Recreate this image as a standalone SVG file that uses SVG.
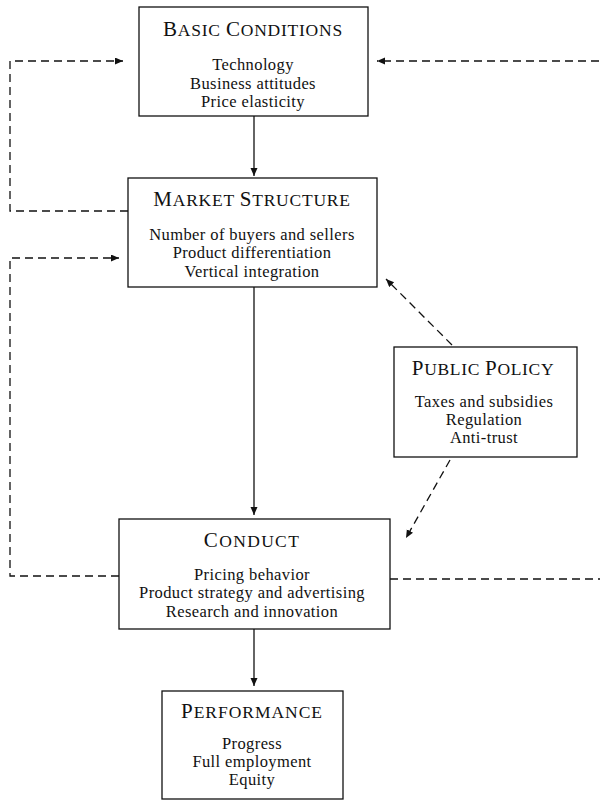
<svg xmlns="http://www.w3.org/2000/svg" width="600" height="801" viewBox="0 0 600 801">
<style>
.box{fill:#fff;stroke:#111;stroke-width:1.3}
.t{font-family:"Liberation Serif","Times New Roman",serif;font-size:17.5px;fill:#111;text-anchor:middle}
.b{font-size:21px}
.i{font-family:"Liberation Serif","Times New Roman",serif;font-size:16.5px;letter-spacing:0.4px;fill:#111;text-anchor:middle}
.solid{fill:none;stroke:#111;stroke-width:1.3}
.dash{fill:none;stroke:#111;stroke-width:1.3;stroke-dasharray:8 5}
</style>
<defs>
<marker id="ah" markerUnits="userSpaceOnUse" markerWidth="9" markerHeight="8" refX="8" refY="3.5" orient="auto">
<path d="M0,0 L8,3.5 L0,7 z" fill="#111" stroke="none"/>
</marker>
</defs>
<rect width="600" height="801" fill="#fff"/>
<g id="connectors">
<line class="solid" x1="254" y1="116" x2="254" y2="176" marker-end="url(#ah)"/>
<line class="solid" x1="254" y1="287" x2="254" y2="515" marker-end="url(#ah)"/>
<line class="solid" x1="254" y1="629" x2="254" y2="686" marker-end="url(#ah)"/>
<path class="dash" d="M128,211 H10 V61 H123" marker-end="url(#ah)"/>
<path class="dash" d="M119,576 H10 V258 H119" marker-end="url(#ah)"/>
<path class="dash" d="M390,579 H606 V61 H377" marker-end="url(#ah)"/>
<line class="dash" x1="452" y1="345" x2="386" y2="279" marker-end="url(#ah)"/>
<line class="dash" x1="450" y1="460" x2="406" y2="538" marker-end="url(#ah)"/>
</g>
<g id="basic-conditions">
<rect class="box" x="139" y="7" width="229" height="109"/>
<text class="t" x="253" y="36" letter-spacing="0.77"><tspan class="b">B</tspan>ASIC <tspan class="b">C</tspan>ONDITIONS</text>
<text class="i"><tspan x="253" y="70.2">Technology</tspan><tspan x="253" y="88.5">Business attitudes</tspan><tspan x="253" y="106.8">Price elasticity</tspan></text>
</g>
<g id="market-structure">
<rect class="box" x="128" y="178" width="249" height="109"/>
<text class="t" x="252" y="206" letter-spacing="0.77"><tspan class="b">M</tspan>ARKET <tspan class="b">S</tspan>TRUCTURE</text>
<text class="i"><tspan x="252" y="240">Number of buyers and sellers</tspan><tspan x="252" y="258.3">Product differentiation</tspan><tspan x="252" y="276.6">Vertical integration</tspan></text>
</g>
<g id="public-policy">
<rect class="box" x="394" y="347" width="183" height="110"/>
<text class="t" x="483" y="375" letter-spacing="0.67"><tspan class="b">P</tspan>UBLIC <tspan class="b">P</tspan>OLICY</text>
<text class="i"><tspan x="484" y="406.7">Taxes and subsidies</tspan><tspan x="484" y="425">Regulation</tspan><tspan x="484" y="443.3">Anti-trust</tspan></text>
</g>
<g id="conduct">
<rect class="box" x="119" y="519" width="271" height="110"/>
<text class="t" x="252" y="547" letter-spacing="1.35"><tspan class="b">C</tspan>ONDUCT</text>
<text class="i"><tspan x="252" y="580">Pricing behavior</tspan><tspan x="252" y="598.3">Product strategy and advertising</tspan><tspan x="252" y="616.6">Research and innovation</tspan></text>
</g>
<g id="performance">
<rect class="box" x="162" y="691" width="181" height="108"/>
<text class="t" x="252" y="718" letter-spacing="0.97"><tspan class="b">P</tspan>ERFORMANCE</text>
<text class="i"><tspan x="252" y="748.7">Progress</tspan><tspan x="252" y="767">Full employment</tspan><tspan x="252" y="785.3">Equity</tspan></text>
</g>
</svg>
